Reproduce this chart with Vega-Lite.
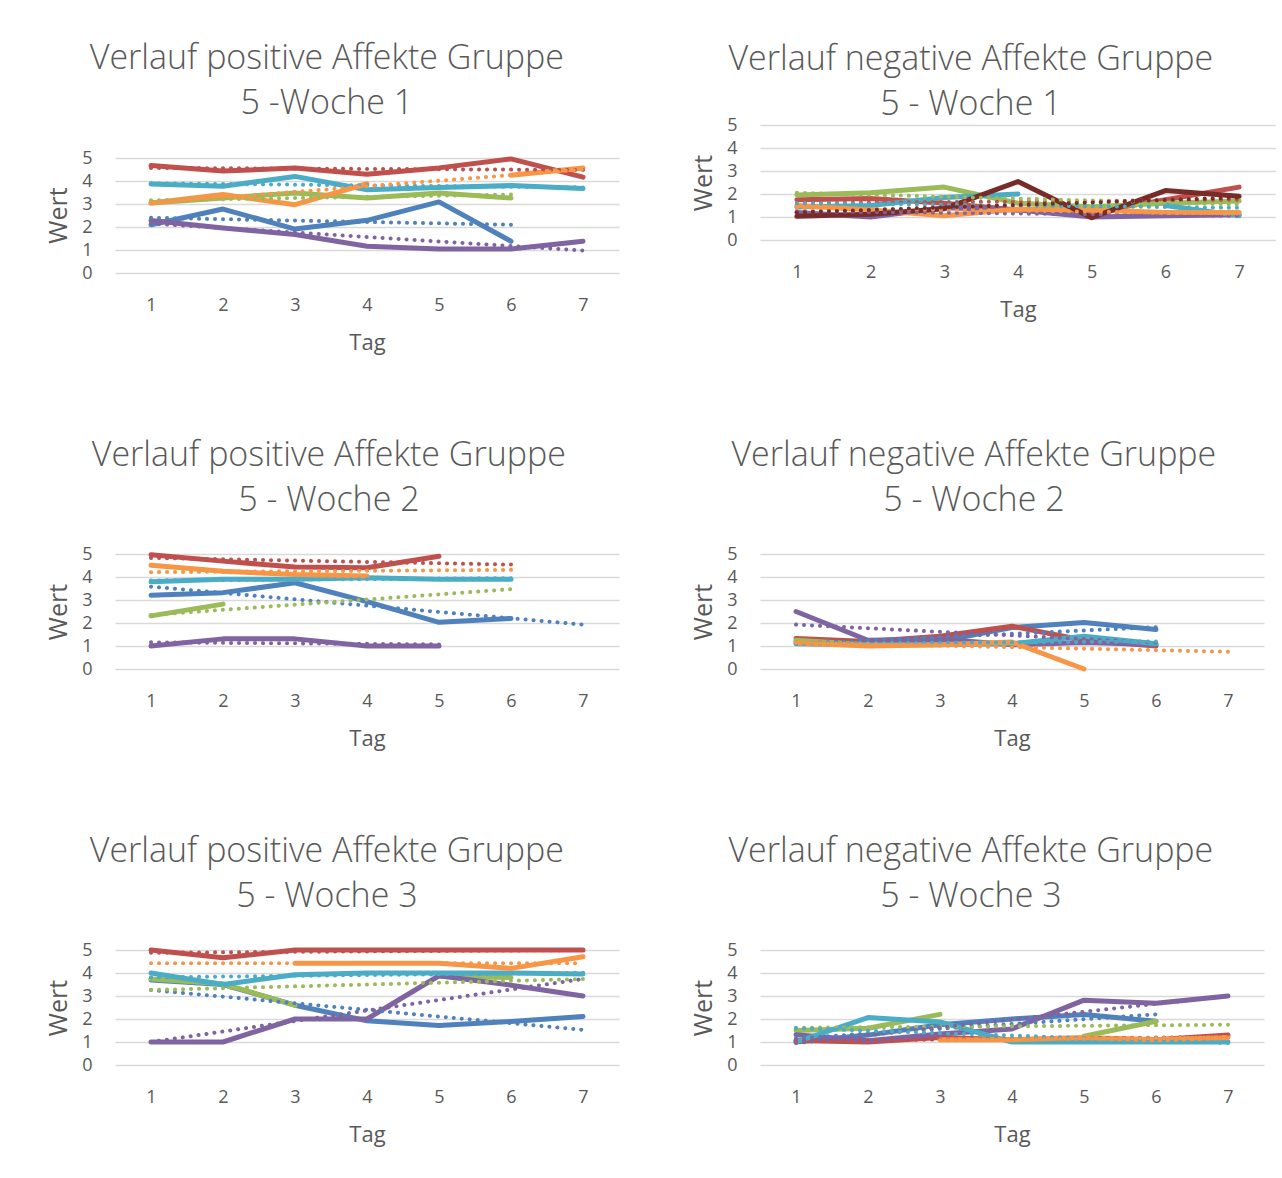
{
  "$schema": "https://vega.github.io/schema/vega-lite/v6.json",
  "padding": {"left": 46, "top": 42, "right": 0, "bottom": 20},
  "spacing": 72,
  "datasets": {
    "p1": [
      {"Reihe":"Reihe1","Art":"Linie","Tag":1,"Wert":2.1},{"Reihe":"Reihe1","Art":"Linie","Tag":2,"Wert":2.78},{"Reihe":"Reihe1","Art":"Linie","Tag":3,"Wert":1.91},{"Reihe":"Reihe1","Art":"Linie","Tag":4,"Wert":2.29},{"Reihe":"Reihe1","Art":"Linie","Tag":5,"Wert":3.09},{"Reihe":"Reihe1","Art":"Linie","Tag":6,"Wert":1.38},
      {"Reihe":"Reihe2","Art":"Linie","Tag":1,"Wert":4.67},{"Reihe":"Reihe2","Art":"Linie","Tag":2,"Wert":4.43},{"Reihe":"Reihe2","Art":"Linie","Tag":3,"Wert":4.57},{"Reihe":"Reihe2","Art":"Linie","Tag":4,"Wert":4.29},{"Reihe":"Reihe2","Art":"Linie","Tag":5,"Wert":4.57},{"Reihe":"Reihe2","Art":"Linie","Tag":6,"Wert":4.96},{"Reihe":"Reihe2","Art":"Linie","Tag":7,"Wert":4.17},
      {"Reihe":"Reihe3","Art":"Linie","Tag":1,"Wert":3.04},{"Reihe":"Reihe3","Art":"Linie","Tag":2,"Wert":3.26},{"Reihe":"Reihe3","Art":"Linie","Tag":3,"Wert":3.48},{"Reihe":"Reihe3","Art":"Linie","Tag":4,"Wert":3.26},{"Reihe":"Reihe3","Art":"Linie","Tag":5,"Wert":3.48},{"Reihe":"Reihe3","Art":"Linie","Tag":6,"Wert":3.26},
      {"Reihe":"Reihe4","Art":"Linie","Tag":1,"Wert":2.28},{"Reihe":"Reihe4","Art":"Linie","Tag":2,"Wert":1.96},{"Reihe":"Reihe4","Art":"Linie","Tag":3,"Wert":1.67},{"Reihe":"Reihe4","Art":"Linie","Tag":4,"Wert":1.16},{"Reihe":"Reihe4","Art":"Linie","Tag":5,"Wert":1.04},{"Reihe":"Reihe4","Art":"Linie","Tag":6,"Wert":1.04},{"Reihe":"Reihe4","Art":"Linie","Tag":7,"Wert":1.38},
      {"Reihe":"Reihe5","Art":"Linie","Tag":1,"Wert":3.87},{"Reihe":"Reihe5","Art":"Linie","Tag":2,"Wert":3.77},{"Reihe":"Reihe5","Art":"Linie","Tag":3,"Wert":4.2},{"Reihe":"Reihe5","Art":"Linie","Tag":4,"Wert":3.62},{"Reihe":"Reihe5","Art":"Linie","Tag":5,"Wert":3.72},{"Reihe":"Reihe5","Art":"Linie","Tag":6,"Wert":3.8},{"Reihe":"Reihe5","Art":"Linie","Tag":7,"Wert":3.67},
      {"Reihe":"Reihe6","Art":"Linie","Tag":1,"Wert":3.04},{"Reihe":"Reihe6","Art":"Linie","Tag":2,"Wert":3.41},{"Reihe":"Reihe6","Art":"Linie","Tag":3,"Wert":2.97},{"Reihe":"Reihe6","Art":"Linie","Tag":4,"Wert":3.88},{"Reihe":"Reihe6","Art":"Linie","Tag":5,"Wert":null},{"Reihe":"Reihe6","Art":"Linie","Tag":6,"Wert":4.25},{"Reihe":"Reihe6","Art":"Linie","Tag":7,"Wert":4.57},
      {"Reihe":"Reihe1","Art":"Trend","Tag":1,"Wert":2.4},{"Reihe":"Reihe1","Art":"Trend","Tag":6,"Wert":2.1},
      {"Reihe":"Reihe2","Art":"Trend","Tag":1,"Wert":4.57},{"Reihe":"Reihe2","Art":"Trend","Tag":7,"Wert":4.48},
      {"Reihe":"Reihe3","Art":"Trend","Tag":1,"Wert":3.16},{"Reihe":"Reihe3","Art":"Trend","Tag":6,"Wert":3.41},
      {"Reihe":"Reihe4","Art":"Trend","Tag":1,"Wert":2.15},{"Reihe":"Reihe4","Art":"Trend","Tag":7,"Wert":0.98},
      {"Reihe":"Reihe5","Art":"Trend","Tag":1,"Wert":3.9},{"Reihe":"Reihe5","Art":"Trend","Tag":7,"Wert":3.72},
      {"Reihe":"Reihe6","Art":"Trend","Tag":1,"Wert":3.04},{"Reihe":"Reihe6","Art":"Trend","Tag":7,"Wert":4.5}
    ],
    "p2": [
      {"Reihe":"Reihe2","Art":"Linie","Tag":1,"Wert":1.75},{"Reihe":"Reihe2","Art":"Linie","Tag":2,"Wert":1.8},{"Reihe":"Reihe2","Art":"Linie","Tag":3,"Wert":1.6},{"Reihe":"Reihe2","Art":"Linie","Tag":4,"Wert":1.3},{"Reihe":"Reihe2","Art":"Linie","Tag":5,"Wert":1.2},{"Reihe":"Reihe2","Art":"Linie","Tag":6,"Wert":1.75},{"Reihe":"Reihe2","Art":"Linie","Tag":7,"Wert":2.3},
      {"Reihe":"Reihe3","Art":"Linie","Tag":1,"Wert":1.96},{"Reihe":"Reihe3","Art":"Linie","Tag":2,"Wert":2.05},{"Reihe":"Reihe3","Art":"Linie","Tag":3,"Wert":2.3},{"Reihe":"Reihe3","Art":"Linie","Tag":4,"Wert":1.6},{"Reihe":"Reihe3","Art":"Linie","Tag":5,"Wert":1.45},{"Reihe":"Reihe3","Art":"Linie","Tag":6,"Wert":1.6},{"Reihe":"Reihe3","Art":"Linie","Tag":7,"Wert":1.7},
      {"Reihe":"Reihe4","Art":"Linie","Tag":1,"Wert":1.2},{"Reihe":"Reihe4","Art":"Linie","Tag":2,"Wert":1.0},{"Reihe":"Reihe4","Art":"Linie","Tag":3,"Wert":1.4},{"Reihe":"Reihe4","Art":"Linie","Tag":4,"Wert":1.3},{"Reihe":"Reihe4","Art":"Linie","Tag":5,"Wert":1.0},{"Reihe":"Reihe4","Art":"Linie","Tag":6,"Wert":1.05},{"Reihe":"Reihe4","Art":"Linie","Tag":7,"Wert":1.1},
      {"Reihe":"Reihe5","Art":"Linie","Tag":1,"Wert":1.43},{"Reihe":"Reihe5","Art":"Linie","Tag":2,"Wert":1.5},{"Reihe":"Reihe5","Art":"Linie","Tag":3,"Wert":1.85},{"Reihe":"Reihe5","Art":"Linie","Tag":4,"Wert":2.0},{"Reihe":"Reihe5","Art":"Linie","Tag":5,"Wert":null},{"Reihe":"Reihe5","Art":"Linie","Tag":6,"Wert":1.5},{"Reihe":"Reihe5","Art":"Linie","Tag":7,"Wert":1.06},
      {"Reihe":"Reihe6","Art":"Linie","Tag":1,"Wert":1.5},{"Reihe":"Reihe6","Art":"Linie","Tag":2,"Wert":1.3},{"Reihe":"Reihe6","Art":"Linie","Tag":3,"Wert":1.05},{"Reihe":"Reihe6","Art":"Linie","Tag":4,"Wert":1.35},{"Reihe":"Reihe6","Art":"Linie","Tag":5,"Wert":1.3},{"Reihe":"Reihe6","Art":"Linie","Tag":6,"Wert":1.2},{"Reihe":"Reihe6","Art":"Linie","Tag":7,"Wert":1.2},
      {"Reihe":"Reihe7","Art":"Linie","Tag":1,"Wert":1.03},{"Reihe":"Reihe7","Art":"Linie","Tag":2,"Wert":1.12},{"Reihe":"Reihe7","Art":"Linie","Tag":3,"Wert":1.36},{"Reihe":"Reihe7","Art":"Linie","Tag":4,"Wert":2.54},{"Reihe":"Reihe7","Art":"Linie","Tag":5,"Wert":0.97},{"Reihe":"Reihe7","Art":"Linie","Tag":6,"Wert":2.15},{"Reihe":"Reihe7","Art":"Linie","Tag":7,"Wert":1.9},
      {"Reihe":"Reihe2","Art":"Trend","Tag":1,"Wert":1.6},{"Reihe":"Reihe2","Art":"Trend","Tag":7,"Wert":1.75},
      {"Reihe":"Reihe3","Art":"Trend","Tag":1,"Wert":2.05},{"Reihe":"Reihe3","Art":"Trend","Tag":7,"Wert":1.55},
      {"Reihe":"Reihe4","Art":"Trend","Tag":1,"Wert":1.25},{"Reihe":"Reihe4","Art":"Trend","Tag":7,"Wert":1.05},
      {"Reihe":"Reihe5","Art":"Trend","Tag":1,"Wert":1.6},{"Reihe":"Reihe5","Art":"Trend","Tag":7,"Wert":1.4},
      {"Reihe":"Reihe6","Art":"Trend","Tag":1,"Wert":1.4},{"Reihe":"Reihe6","Art":"Trend","Tag":7,"Wert":1.15},
      {"Reihe":"Reihe7","Art":"Trend","Tag":1,"Wert":1.2},{"Reihe":"Reihe7","Art":"Trend","Tag":7,"Wert":1.85}
    ],
    "p3": [
      {"Reihe":"Reihe1","Art":"Linie","Tag":1,"Wert":3.21},{"Reihe":"Reihe1","Art":"Linie","Tag":2,"Wert":3.32},{"Reihe":"Reihe1","Art":"Linie","Tag":3,"Wert":3.75},{"Reihe":"Reihe1","Art":"Linie","Tag":4,"Wert":2.93},{"Reihe":"Reihe1","Art":"Linie","Tag":5,"Wert":2.03},{"Reihe":"Reihe1","Art":"Linie","Tag":6,"Wert":2.2},
      {"Reihe":"Reihe2","Art":"Linie","Tag":1,"Wert":4.97},{"Reihe":"Reihe2","Art":"Linie","Tag":2,"Wert":4.69},{"Reihe":"Reihe2","Art":"Linie","Tag":3,"Wert":4.43},{"Reihe":"Reihe2","Art":"Linie","Tag":4,"Wert":4.4},{"Reihe":"Reihe2","Art":"Linie","Tag":5,"Wert":4.9},
      {"Reihe":"Reihe3","Art":"Linie","Tag":1,"Wert":2.31},{"Reihe":"Reihe3","Art":"Linie","Tag":2,"Wert":2.82},
      {"Reihe":"Reihe4","Art":"Linie","Tag":1,"Wert":1.0},{"Reihe":"Reihe4","Art":"Linie","Tag":2,"Wert":1.31},{"Reihe":"Reihe4","Art":"Linie","Tag":3,"Wert":1.31},{"Reihe":"Reihe4","Art":"Linie","Tag":4,"Wert":1.0},{"Reihe":"Reihe4","Art":"Linie","Tag":5,"Wert":1.0},
      {"Reihe":"Reihe5","Art":"Linie","Tag":1,"Wert":3.79},{"Reihe":"Reihe5","Art":"Linie","Tag":2,"Wert":3.9},{"Reihe":"Reihe5","Art":"Linie","Tag":3,"Wert":3.9},{"Reihe":"Reihe5","Art":"Linie","Tag":4,"Wert":3.97},{"Reihe":"Reihe5","Art":"Linie","Tag":5,"Wert":3.9},{"Reihe":"Reihe5","Art":"Linie","Tag":6,"Wert":3.9},
      {"Reihe":"Reihe6","Art":"Linie","Tag":1,"Wert":4.51},{"Reihe":"Reihe6","Art":"Linie","Tag":2,"Wert":4.25},{"Reihe":"Reihe6","Art":"Linie","Tag":3,"Wert":4.11},{"Reihe":"Reihe6","Art":"Linie","Tag":4,"Wert":4.04},
      {"Reihe":"Reihe1","Art":"Trend","Tag":1,"Wert":3.58},{"Reihe":"Reihe1","Art":"Trend","Tag":7,"Wert":1.93},
      {"Reihe":"Reihe2","Art":"Trend","Tag":1,"Wert":4.83},{"Reihe":"Reihe2","Art":"Trend","Tag":6,"Wert":4.54},
      {"Reihe":"Reihe3","Art":"Trend","Tag":1,"Wert":2.35},{"Reihe":"Reihe3","Art":"Trend","Tag":6,"Wert":3.47},
      {"Reihe":"Reihe4","Art":"Trend","Tag":1,"Wert":1.16},{"Reihe":"Reihe4","Art":"Trend","Tag":5,"Wert":1.07},
      {"Reihe":"Reihe5","Art":"Trend","Tag":1,"Wert":3.85},{"Reihe":"Reihe5","Art":"Trend","Tag":6,"Wert":3.95},
      {"Reihe":"Reihe6","Art":"Trend","Tag":1,"Wert":4.21},{"Reihe":"Reihe6","Art":"Trend","Tag":6,"Wert":4.31}
    ],
    "p4": [
      {"Reihe":"Reihe1","Art":"Linie","Tag":1,"Wert":1.2},{"Reihe":"Reihe1","Art":"Linie","Tag":2,"Wert":1.1},{"Reihe":"Reihe1","Art":"Linie","Tag":3,"Wert":1.2},{"Reihe":"Reihe1","Art":"Linie","Tag":4,"Wert":1.8},{"Reihe":"Reihe1","Art":"Linie","Tag":5,"Wert":2.02},{"Reihe":"Reihe1","Art":"Linie","Tag":6,"Wert":1.72},
      {"Reihe":"Reihe2","Art":"Linie","Tag":1,"Wert":1.33},{"Reihe":"Reihe2","Art":"Linie","Tag":2,"Wert":1.2},{"Reihe":"Reihe2","Art":"Linie","Tag":3,"Wert":1.42},{"Reihe":"Reihe2","Art":"Linie","Tag":4,"Wert":1.86},{"Reihe":"Reihe2","Art":"Linie","Tag":5,"Wert":1.25},{"Reihe":"Reihe2","Art":"Linie","Tag":6,"Wert":1.0},
      {"Reihe":"Reihe3","Art":"Linie","Tag":1,"Wert":1.25},{"Reihe":"Reihe3","Art":"Linie","Tag":2,"Wert":1.05},
      {"Reihe":"Reihe4","Art":"Linie","Tag":1,"Wert":2.5},{"Reihe":"Reihe4","Art":"Linie","Tag":2,"Wert":1.25},{"Reihe":"Reihe4","Art":"Linie","Tag":3,"Wert":1.3},{"Reihe":"Reihe4","Art":"Linie","Tag":4,"Wert":1.05},{"Reihe":"Reihe4","Art":"Linie","Tag":5,"Wert":1.15},{"Reihe":"Reihe4","Art":"Linie","Tag":6,"Wert":1.06},
      {"Reihe":"Reihe5","Art":"Linie","Tag":1,"Wert":1.1},{"Reihe":"Reihe5","Art":"Linie","Tag":2,"Wert":1.05},{"Reihe":"Reihe5","Art":"Linie","Tag":3,"Wert":1.05},{"Reihe":"Reihe5","Art":"Linie","Tag":4,"Wert":1.1},{"Reihe":"Reihe5","Art":"Linie","Tag":5,"Wert":1.42},{"Reihe":"Reihe5","Art":"Linie","Tag":6,"Wert":1.1},
      {"Reihe":"Reihe6","Art":"Linie","Tag":1,"Wert":1.13},{"Reihe":"Reihe6","Art":"Linie","Tag":2,"Wert":1.0},{"Reihe":"Reihe6","Art":"Linie","Tag":3,"Wert":1.05},{"Reihe":"Reihe6","Art":"Linie","Tag":4,"Wert":1.17},{"Reihe":"Reihe6","Art":"Linie","Tag":5,"Wert":0.0},
      {"Reihe":"Reihe1","Art":"Trend","Tag":1,"Wert":1.1},{"Reihe":"Reihe1","Art":"Trend","Tag":6,"Wert":1.82},
      {"Reihe":"Reihe4","Art":"Trend","Tag":1,"Wert":1.93},{"Reihe":"Reihe4","Art":"Trend","Tag":6,"Wert":1.15},
      {"Reihe":"Reihe5","Art":"Trend","Tag":1,"Wert":1.1},{"Reihe":"Reihe5","Art":"Trend","Tag":6,"Wert":1.2},
      {"Reihe":"Reihe6","Art":"Trend","Tag":1,"Wert":1.15},{"Reihe":"Reihe6","Art":"Trend","Tag":7,"Wert":0.75}
    ],
    "p5": [
      {"Reihe":"Reihe1","Art":"Linie","Tag":1,"Wert":3.7},{"Reihe":"Reihe1","Art":"Linie","Tag":2,"Wert":3.5},{"Reihe":"Reihe1","Art":"Linie","Tag":3,"Wert":2.6},{"Reihe":"Reihe1","Art":"Linie","Tag":4,"Wert":1.92},{"Reihe":"Reihe1","Art":"Linie","Tag":5,"Wert":1.72},{"Reihe":"Reihe1","Art":"Linie","Tag":6,"Wert":1.89},{"Reihe":"Reihe1","Art":"Linie","Tag":7,"Wert":2.11},
      {"Reihe":"Reihe2","Art":"Linie","Tag":1,"Wert":5.0},{"Reihe":"Reihe2","Art":"Linie","Tag":2,"Wert":4.66},{"Reihe":"Reihe2","Art":"Linie","Tag":3,"Wert":5.0},{"Reihe":"Reihe2","Art":"Linie","Tag":4,"Wert":5.0},{"Reihe":"Reihe2","Art":"Linie","Tag":5,"Wert":5.0},{"Reihe":"Reihe2","Art":"Linie","Tag":6,"Wert":5.0},{"Reihe":"Reihe2","Art":"Linie","Tag":7,"Wert":5.0},
      {"Reihe":"Reihe3","Art":"Linie","Tag":1,"Wert":3.74},{"Reihe":"Reihe3","Art":"Linie","Tag":2,"Wert":3.53},{"Reihe":"Reihe3","Art":"Linie","Tag":3,"Wert":2.59},{"Reihe":"Reihe3","Art":"Linie","Tag":4,"Wert":null},{"Reihe":"Reihe3","Art":"Linie","Tag":5,"Wert":3.85},{"Reihe":"Reihe3","Art":"Linie","Tag":6,"Wert":3.8},
      {"Reihe":"Reihe4","Art":"Linie","Tag":1,"Wert":1.0},{"Reihe":"Reihe4","Art":"Linie","Tag":2,"Wert":1.0},{"Reihe":"Reihe4","Art":"Linie","Tag":3,"Wert":2.0},{"Reihe":"Reihe4","Art":"Linie","Tag":4,"Wert":2.0},{"Reihe":"Reihe4","Art":"Linie","Tag":5,"Wert":3.88},{"Reihe":"Reihe4","Art":"Linie","Tag":6,"Wert":3.47},{"Reihe":"Reihe4","Art":"Linie","Tag":7,"Wert":3.0},
      {"Reihe":"Reihe5","Art":"Linie","Tag":1,"Wert":4.0},{"Reihe":"Reihe5","Art":"Linie","Tag":2,"Wert":3.5},{"Reihe":"Reihe5","Art":"Linie","Tag":3,"Wert":3.92},{"Reihe":"Reihe5","Art":"Linie","Tag":4,"Wert":4.0},{"Reihe":"Reihe5","Art":"Linie","Tag":5,"Wert":4.0},{"Reihe":"Reihe5","Art":"Linie","Tag":6,"Wert":4.0},{"Reihe":"Reihe5","Art":"Linie","Tag":7,"Wert":3.96},
      {"Reihe":"Reihe6","Art":"Linie","Tag":3,"Wert":4.42},{"Reihe":"Reihe6","Art":"Linie","Tag":4,"Wert":4.42},{"Reihe":"Reihe6","Art":"Linie","Tag":5,"Wert":4.42},{"Reihe":"Reihe6","Art":"Linie","Tag":6,"Wert":4.2},{"Reihe":"Reihe6","Art":"Linie","Tag":7,"Wert":4.71},
      {"Reihe":"Reihe1","Art":"Trend","Tag":1,"Wert":3.26},{"Reihe":"Reihe1","Art":"Trend","Tag":7,"Wert":1.53},
      {"Reihe":"Reihe2","Art":"Trend","Tag":1,"Wert":4.88},{"Reihe":"Reihe2","Art":"Trend","Tag":7,"Wert":5.0},
      {"Reihe":"Reihe3","Art":"Trend","Tag":1,"Wert":3.26},{"Reihe":"Reihe3","Art":"Trend","Tag":7,"Wert":3.74},
      {"Reihe":"Reihe4","Art":"Trend","Tag":1,"Wert":1.0},{"Reihe":"Reihe4","Art":"Trend","Tag":7,"Wert":3.74},
      {"Reihe":"Reihe5","Art":"Trend","Tag":1,"Wert":3.81},{"Reihe":"Reihe5","Art":"Trend","Tag":7,"Wert":4.01},
      {"Reihe":"Reihe6","Art":"Trend","Tag":1,"Wert":4.42},{"Reihe":"Reihe6","Art":"Trend","Tag":7,"Wert":4.42}
    ],
    "p6": [
      {"Reihe":"Reihe1","Art":"Linie","Tag":1,"Wert":1.0},{"Reihe":"Reihe1","Art":"Linie","Tag":2,"Wert":1.3},{"Reihe":"Reihe1","Art":"Linie","Tag":3,"Wert":1.75},{"Reihe":"Reihe1","Art":"Linie","Tag":4,"Wert":2.0},{"Reihe":"Reihe1","Art":"Linie","Tag":5,"Wert":2.2},{"Reihe":"Reihe1","Art":"Linie","Tag":6,"Wert":1.9},
      {"Reihe":"Reihe2","Art":"Linie","Tag":1,"Wert":1.07},{"Reihe":"Reihe2","Art":"Linie","Tag":2,"Wert":1.0},{"Reihe":"Reihe2","Art":"Linie","Tag":3,"Wert":1.2},{"Reihe":"Reihe2","Art":"Linie","Tag":4,"Wert":1.1},{"Reihe":"Reihe2","Art":"Linie","Tag":5,"Wert":1.15},{"Reihe":"Reihe2","Art":"Linie","Tag":6,"Wert":1.1},{"Reihe":"Reihe2","Art":"Linie","Tag":7,"Wert":1.3},
      {"Reihe":"Reihe3","Art":"Linie","Tag":1,"Wert":1.5},{"Reihe":"Reihe3","Art":"Linie","Tag":2,"Wert":1.6},{"Reihe":"Reihe3","Art":"Linie","Tag":3,"Wert":2.2},{"Reihe":"Reihe3","Art":"Linie","Tag":4,"Wert":null},{"Reihe":"Reihe3","Art":"Linie","Tag":5,"Wert":1.25},{"Reihe":"Reihe3","Art":"Linie","Tag":6,"Wert":1.9},
      {"Reihe":"Reihe4","Art":"Linie","Tag":1,"Wert":1.32},{"Reihe":"Reihe4","Art":"Linie","Tag":2,"Wert":1.06},{"Reihe":"Reihe4","Art":"Linie","Tag":3,"Wert":1.35},{"Reihe":"Reihe4","Art":"Linie","Tag":4,"Wert":1.57},{"Reihe":"Reihe4","Art":"Linie","Tag":5,"Wert":2.82},{"Reihe":"Reihe4","Art":"Linie","Tag":6,"Wert":2.68},{"Reihe":"Reihe4","Art":"Linie","Tag":7,"Wert":3.0},
      {"Reihe":"Reihe5","Art":"Linie","Tag":1,"Wert":1.0},{"Reihe":"Reihe5","Art":"Linie","Tag":2,"Wert":2.06},{"Reihe":"Reihe5","Art":"Linie","Tag":3,"Wert":1.87},{"Reihe":"Reihe5","Art":"Linie","Tag":4,"Wert":1.0},{"Reihe":"Reihe5","Art":"Linie","Tag":5,"Wert":1.0},{"Reihe":"Reihe5","Art":"Linie","Tag":6,"Wert":1.0},{"Reihe":"Reihe5","Art":"Linie","Tag":7,"Wert":1.0},
      {"Reihe":"Reihe6","Art":"Linie","Tag":3,"Wert":1.1},{"Reihe":"Reihe6","Art":"Linie","Tag":4,"Wert":1.1},{"Reihe":"Reihe6","Art":"Linie","Tag":5,"Wert":1.2},{"Reihe":"Reihe6","Art":"Linie","Tag":6,"Wert":1.1},{"Reihe":"Reihe6","Art":"Linie","Tag":7,"Wert":1.2},
      {"Reihe":"Reihe1","Art":"Trend","Tag":1,"Wert":1.16},{"Reihe":"Reihe1","Art":"Trend","Tag":6,"Wert":2.2},
      {"Reihe":"Reihe2","Art":"Trend","Tag":1,"Wert":1.05},{"Reihe":"Reihe2","Art":"Trend","Tag":7,"Wert":1.22},
      {"Reihe":"Reihe3","Art":"Trend","Tag":1,"Wert":1.62},{"Reihe":"Reihe3","Art":"Trend","Tag":7,"Wert":1.75},
      {"Reihe":"Reihe4","Art":"Trend","Tag":1,"Wert":0.95},{"Reihe":"Reihe4","Art":"Trend","Tag":7,"Wert":3.0},
      {"Reihe":"Reihe5","Art":"Trend","Tag":1,"Wert":1.6},{"Reihe":"Reihe5","Art":"Trend","Tag":7,"Wert":0.96},
      {"Reihe":"Reihe6","Art":"Trend","Tag":3,"Wert":1.08},{"Reihe":"Reihe6","Art":"Trend","Tag":7,"Wert":1.2}
    ]
  },
  "hconcat": [
    {
      "spacing": 86,
      "vconcat": [
        {
          "width": 504, "height": 148,
          "title": {"text": ["Verlauf positive Affekte Gruppe", "5 -Woche 1"], "offset": 4, "dx": -6},
          "data": {"name": "p1"},
          "encoding": {
            "x": {"field": "Tag", "type": "ordinal", "scale": {"type": "point", "padding": 0.5, "domain": [1,2,3,4,5,6,7]}, "axis": {"title": "Tag"}},
            "y": {"field": "Wert", "type": "quantitative", "scale": {"domain": [0, 6.4348], "nice": false}, "axis": {"title": "Wert", "values": [0,1,2,3,4,5], "titleY": 90}},
            "color": {"field": "Reihe", "type": "nominal", "scale": {"domain": ["Reihe1","Reihe2","Reihe3","Reihe4","Reihe5","Reihe6","Reihe7"], "range": ["#4F81BD","#C0504D","#9BBB59","#8064A2","#4BACC6","#F79646","#772C2A"]}, "legend": null}
          },
          "layer": [
            {"transform": [{"filter": "datum.Art === 'Linie'"}], "mark": {"type": "line", "strokeWidth": 5, "strokeCap": "round", "strokeJoin": "round", "invalid": "break-paths-filter-domains"}},
            {"transform": [{"filter": "datum.Art === 'Trend'"}], "mark": {"type": "line", "strokeWidth": 4, "strokeCap": "round", "strokeDash": [0.1, 7.9]}}
          ]
        },
        {
          "width": 504, "height": 115,
          "title": {"text": ["Verlauf positive Affekte Gruppe", "5 -  Woche 2"], "offset": 27, "dx": -4},
          "data": {"name": "p3"},
          "encoding": {
            "x": {"field": "Tag", "type": "ordinal", "scale": {"type": "point", "padding": 0.5, "domain": [1,2,3,4,5,6,7]}, "axis": {"title": "Tag"}},
            "y": {"field": "Wert", "type": "quantitative", "scale": {"domain": [0, 5]}, "axis": {"title": "Wert", "values": [0,1,2,3,4,5]}},
            "color": {"field": "Reihe", "type": "nominal", "scale": {"domain": ["Reihe1","Reihe2","Reihe3","Reihe4","Reihe5","Reihe6","Reihe7"], "range": ["#4F81BD","#C0504D","#9BBB59","#8064A2","#4BACC6","#F79646","#772C2A"]}, "legend": null}
          },
          "layer": [
            {"transform": [{"filter": "datum.Art === 'Linie'"}], "mark": {"type": "line", "strokeWidth": 5, "strokeCap": "round", "strokeJoin": "round", "invalid": "break-paths-filter-domains"}},
            {"transform": [{"filter": "datum.Art === 'Trend'"}], "mark": {"type": "line", "strokeWidth": 4, "strokeCap": "round", "strokeDash": [0.1, 7.9]}}
          ]
        },
        {
          "width": 504, "height": 115,
          "title": {"text": ["Verlauf positive Affekte Gruppe", "5 -  Woche 3"], "offset": 27, "dx": -6},
          "data": {"name": "p5"},
          "encoding": {
            "x": {"field": "Tag", "type": "ordinal", "scale": {"type": "point", "padding": 0.5, "domain": [1,2,3,4,5,6,7]}, "axis": {"title": "Tag"}},
            "y": {"field": "Wert", "type": "quantitative", "scale": {"domain": [0, 5]}, "axis": {"title": "Wert", "values": [0,1,2,3,4,5]}},
            "color": {"field": "Reihe", "type": "nominal", "scale": {"domain": ["Reihe1","Reihe2","Reihe3","Reihe4","Reihe5","Reihe6","Reihe7"], "range": ["#4F81BD","#C0504D","#9BBB59","#8064A2","#4BACC6","#F79646","#772C2A"]}, "legend": null}
          },
          "layer": [
            {"transform": [{"filter": "datum.Art === 'Linie'"}], "mark": {"type": "line", "strokeWidth": 5, "strokeCap": "round", "strokeJoin": "round", "invalid": "break-paths-filter-domains"}},
            {"transform": [{"filter": "datum.Art === 'Trend'"}], "mark": {"type": "line", "strokeWidth": 4, "strokeCap": "round", "strokeDash": [0.1, 7.9]}}
          ]
        }
      ]
    },
    {
      "spacing": 119,
      "vconcat": [
        {
          "width": 516, "height": 115,
          "title": {"text": ["Verlauf negative Affekte Gruppe", "5 - Woche 1"], "offset": -6, "dx": -13},
          "data": {"name": "p2"},
          "encoding": {
            "x": {"field": "Tag", "type": "ordinal", "scale": {"type": "point", "padding": 0.5, "domain": [1,2,3,4,5,6,7]}, "axis": {"title": "Tag"}},
            "y": {"field": "Wert", "type": "quantitative", "scale": {"domain": [0, 5]}, "axis": {"title": "Wert", "values": [0,1,2,3,4,5]}},
            "color": {"field": "Reihe", "type": "nominal", "scale": {"domain": ["Reihe1","Reihe2","Reihe3","Reihe4","Reihe5","Reihe6","Reihe7"], "range": ["#4F81BD","#C0504D","#9BBB59","#8064A2","#4BACC6","#F79646","#772C2A"]}, "legend": null}
          },
          "layer": [
            {"transform": [{"filter": "datum.Art === 'Linie'"}], "mark": {"type": "line", "strokeWidth": 5, "strokeCap": "round", "strokeJoin": "round", "invalid": "break-paths-filter-domains"}},
            {"transform": [{"filter": "datum.Art === 'Trend'"}], "mark": {"type": "line", "strokeWidth": 4, "strokeCap": "round", "strokeDash": [0.1, 7.9]}}
          ]
        },
        {
          "spacing": 86,
          "vconcat": [
            {
              "width": 504, "height": 115,
              "title": {"text": ["Verlauf negative Affekte Gruppe", "5 -  Woche 2"], "offset": 27, "dx": -4},
              "data": {"name": "p4"},
              "encoding": {
                "x": {"field": "Tag", "type": "ordinal", "scale": {"type": "point", "padding": 0.5, "domain": [1,2,3,4,5,6,7]}, "axis": {"title": "Tag"}},
                "y": {"field": "Wert", "type": "quantitative", "scale": {"domain": [0, 5]}, "axis": {"title": "Wert", "values": [0,1,2,3,4,5]}},
                "color": {"field": "Reihe", "type": "nominal", "scale": {"domain": ["Reihe1","Reihe2","Reihe3","Reihe4","Reihe5","Reihe6","Reihe7"], "range": ["#4F81BD","#C0504D","#9BBB59","#8064A2","#4BACC6","#F79646","#772C2A"]}, "legend": null}
              },
              "layer": [
                {"transform": [{"filter": "datum.Art === 'Linie'"}], "mark": {"type": "line", "strokeWidth": 5, "strokeCap": "round", "strokeJoin": "round", "invalid": "break-paths-filter-domains"}},
                {"transform": [{"filter": "datum.Art === 'Trend'"}], "mark": {"type": "line", "strokeWidth": 4, "strokeCap": "round", "strokeDash": [0.1, 7.9]}}
              ]
            },
            {
              "width": 504, "height": 115,
              "title": {"text": ["Verlauf negative Affekte Gruppe", "5 -  Woche 3"], "offset": 27, "dx": -7},
              "data": {"name": "p6"},
              "encoding": {
                "x": {"field": "Tag", "type": "ordinal", "scale": {"type": "point", "padding": 0.5, "domain": [1,2,3,4,5,6,7]}, "axis": {"title": "Tag"}},
                "y": {"field": "Wert", "type": "quantitative", "scale": {"domain": [0, 5]}, "axis": {"title": "Wert", "values": [0,1,2,3,4,5]}},
                "color": {"field": "Reihe", "type": "nominal", "scale": {"domain": ["Reihe1","Reihe2","Reihe3","Reihe4","Reihe5","Reihe6","Reihe7"], "range": ["#4F81BD","#C0504D","#9BBB59","#8064A2","#4BACC6","#F79646","#772C2A"]}, "legend": null}
              },
              "layer": [
                {"transform": [{"filter": "datum.Art === 'Linie'"}], "mark": {"type": "line", "strokeWidth": 5, "strokeCap": "round", "strokeJoin": "round", "invalid": "break-paths-filter-domains"}},
                {"transform": [{"filter": "datum.Art === 'Trend'"}], "mark": {"type": "line", "strokeWidth": 4, "strokeCap": "round", "strokeDash": [0.1, 7.9]}}
              ]
            }
          ]
        }
      ]
    }
  ],
  "config": {
    "font": "Open Sans",
    "background": "white",
    "view": {"stroke": null},
    "axis": {"labelColor": "#595959", "titleColor": "#595959", "labelFontSize": 18, "titleFontWeight": "normal", "domain": false, "ticks": false, "gridColor": "#D9D9D9", "gridWidth": 1.5},
    "axisX": {"labelAngle": 0, "labelPadding": 23, "titlePadding": 18, "titleFontSize": 22, "grid": false},
    "axisY": {"labelPadding": 23, "titlePadding": 10, "titleFontSize": 25, "grid": true},
    "title": {"fontSize": 34, "fontWeight": 300, "color": "#595959", "lineHeight": 45, "anchor": "middle", "frame": "bounds"}
  }
}
